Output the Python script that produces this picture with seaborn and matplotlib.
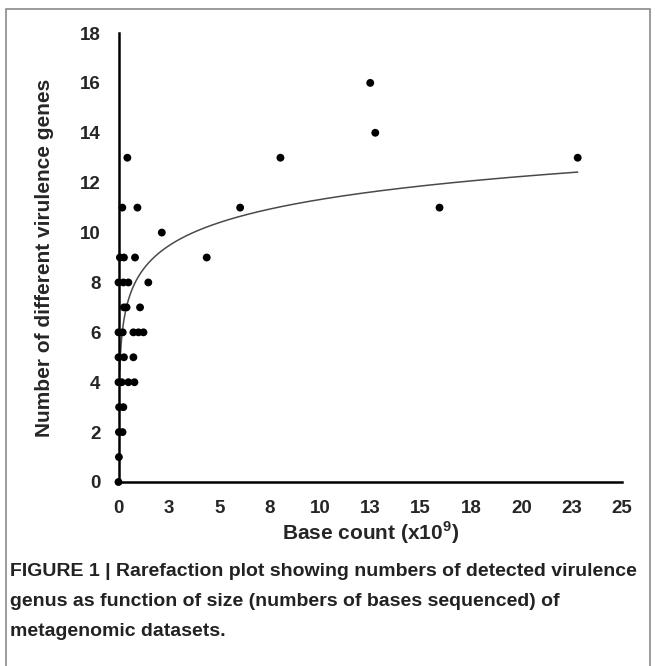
import numpy as np
import pandas as pd
import matplotlib
matplotlib.use("Agg")
import matplotlib.pyplot as plt
import seaborn as sns
from matplotlib.patches import Rectangle

# base count (x10^9) and number of different virulence genes per dataset
base_count = [0.44,
              0.19, 0.94,
              2.15,
              0.07, 0.27, 0.82, 4.38,
              0.0, 0.24, 0.49, 1.48,
              0.27, 0.40, 1.07,
              0.0, 0.21, 0.74, 0.99, 1.24,
              0.0, 0.27, 0.74,
              0.0, 0.16, 0.49, 0.79,
              0.03, 0.24,
              0.02, 0.20,
              0.02,
              0.0,
              6.04, 15.94, 8.04, 22.8, 12.75, 12.5]
n_genes = [13,
           11, 11,
           10,
           9, 9, 9, 9,
           8, 8, 8, 8,
           7, 7, 7,
           6, 6, 6, 6, 6,
           5, 5, 5,
           4, 4, 4, 4,
           3, 3,
           2, 2,
           1,
           0,
           11, 11, 13, 13, 14, 16]

# logarithmic trend line y = a*ln(x) + b
trend_a = 1.335
trend_b = 8.25
trend_x_range = (0.06, 22.8)

x_ticks = [0, 2.5, 5, 7.5, 10, 12.5, 15, 17.5, 20, 22.5, 25]
x_tick_labels = ["0", "3", "5", "8", "10", "13", "15", "18", "20", "23", "25"]
y_ticks = [0, 2, 4, 6, 8, 10, 12, 14, 16, 18]

caption = ["FIGURE 1 | Rarefaction plot showing numbers of detected virulence",
           "genus as function of size (numbers of bases sequenced) of",
           "metagenomic datasets."]

df = pd.DataFrame({"base": base_count, "genes": n_genes})
tx = np.geomspace(trend_x_range[0], trend_x_range[1], 300)
trend = pd.DataFrame({"base": tx, "genes": trend_a * np.log(tx) + trend_b})

sns.set_style("white")
plt.rcParams["font.family"] = ["Liberation Sans", "DejaVu Sans"]
plt.rcParams["mathtext.fontset"] = "custom"
plt.rcParams["mathtext.bf"] = "Liberation Sans:bold"
plt.rcParams["mathtext.rm"] = "Liberation Sans:bold"

W, H = 655, 666
fig = plt.figure(figsize=(W / 100, H / 100), dpi=100)
ax = fig.add_axes([118.5 / W, 1 - 482 / H, (622 - 118.5) / W, (482 - 33) / H])

# outer frame of the figure panel
fig.patches.append(Rectangle((5.5 / W, -0.05), (650 - 5.5) / W, 1 - 8.5 / H + 0.05,
                             transform=fig.transFigure, fill=False,
                             edgecolor="#8a8a8a", linewidth=1.2))

sns.lineplot(data=trend, x="base", y="genes", ax=ax, color="#4a4a4a",
             linewidth=1.1, zorder=2)
sns.scatterplot(data=df, x="base", y="genes", ax=ax, color="black", s=32,
                edgecolor="none", zorder=3, clip_on=False)

ax.set_xlim(0, 25)
ax.set_ylim(0, 18)
ax.set_xticks(x_ticks)
ax.set_xticklabels(x_tick_labels)
ax.set_yticks(y_ticks)

for s in ["top", "right"]:
    ax.spines[s].set_visible(False)
for s in ["left", "bottom"]:
    ax.spines[s].set_linewidth(1.8)
    ax.spines[s].set_color("black")

ax.tick_params(axis="both", direction="out", length=4.5, width=1.5,
               color="black", labelsize=13.5, pad=8.5)
for lab in ax.get_xticklabels() + ax.get_yticklabels():
    lab.set_fontweight("bold")

ax.set_xlabel(r"Base count (x10$^{\mathbf{9}}$)", fontsize=15, fontweight="bold")
ax.set_ylabel("Number of different virulence genes", fontsize=15, fontweight="bold")
ax.xaxis.set_label_coords(0.5, (482 - 519) / 449)
ax.yaxis.set_label_coords((54 - 118.5) / 503.5, 0.5)

for i, line in enumerate(caption):
    fig.text(10 / W, 1 - (571 + 30 * i) / H, line, ha="left", va="center",
             fontsize=14, fontweight="bold", color="#222222")

fig.savefig("out.png", dpi=100)
